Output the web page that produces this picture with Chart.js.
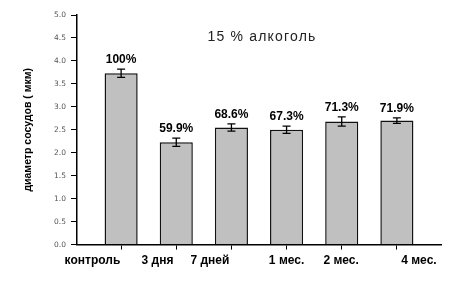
<!DOCTYPE html>
<html><head><meta charset="utf-8">
<script src="https://cdn.jsdelivr.net/npm/chart.js@4"></script>
<style>html,body{margin:0;padding:0;background:#fff}#wrap{width:450px;height:282px}</style>
</head><body><div id="wrap"><canvas id="c" width="450" height="282"></canvas></div>
<script>
const categories = ["контроль", "3 дня", "7 дней", "1 мес.", "2 мес.", "4 мес."];
const values = [3.73, 2.23, 2.55, 2.50, 2.68, 2.70];
const errors = [0.09, 0.09, 0.08, 0.08, 0.10, 0.06];
const percentLabels = ["100%", "59.9%", "68.6%", "67.3%", "71.3%", "71.9%"];
const labelPositions = [-0.52, 0.66, 1.61, 3.0, 3.99, 5.4];
const yTicks = [0, 0.5, 1, 1.5, 2, 2.5, 3, 3.5, 4, 4.5, 5];
const chartTitle = "15 % алкоголь";
const yTitle = "диаметр сосудов ( мкм)";

const FONT = "'Liberation Sans', Arial, sans-serif";

const overlay = {
  id: 'overlay',
  afterDatasetsDraw(chart) {
    const ctx = chart.ctx;
    const xs = chart.scales.x, ys = chart.scales.y;
    ctx.save();
    ctx.strokeStyle = '#000';
    ctx.lineWidth = 1.3;
    values.forEach((v, i) => {
      const x = xs.getPixelForValue(i);
      const yt = ys.getPixelForValue(v + errors[i]);
      const yb = ys.getPixelForValue(v - errors[i]);
      ctx.beginPath();
      ctx.moveTo(x, yt); ctx.lineTo(x, yb);
      ctx.moveTo(x - 4, yt); ctx.lineTo(x + 4, yt);
      ctx.moveTo(x - 4, yb); ctx.lineTo(x + 4, yb);
      ctx.stroke();
      ctx.fillStyle = '#000';
      ctx.font = "bold 12px " + FONT;
      ctx.textAlign = 'center';
      ctx.textBaseline = 'bottom';
      ctx.fillText(percentLabels[i], x, yt - 3);
    });
    ctx.fillStyle = '#222';
    ctx.font = "14px " + FONT;
    ctx.textAlign = 'center';
    ctx.textBaseline = 'middle';
    try { ctx.letterSpacing = '1.2px'; } catch (e) {}
    ctx.fillText(chartTitle, 262, 37);
    ctx.restore();
  }
};

new Chart(document.getElementById('c'), {
  type: 'bar',
  data: {
    datasets: [{
      data: values.map((v, i) => ({x: i, y: v})),
      backgroundColor: '#c0c0c0',
      borderColor: '#111',
      borderWidth: 1.5,
      barPercentage: 0.6,
      categoryPercentage: 1.0,
      xAxisID: 'x',
      yAxisID: 'y'
    }]
  },
  options: {
    responsive: false,
    animation: false,
    devicePixelRatio: 1,
    layout: { padding: { left: 10, right: 9, top: 15, bottom: 10 } },
    plugins: { legend: { display: false }, tooltip: { enabled: false }, title: { display: false } },
    scales: {
      x: {
        type: 'linear', position: 'bottom', offset: false,
        min: -0.8, max: 5.8,
        afterBuildTicks(s) { s.ticks = categories.map((c, i) => ({ value: i })); },
        ticks: { display: false },
        grid: { offset: false, drawOnChartArea: false, drawTicks: true, tickLength: 5, color: '#000', lineWidth: 1 },
        border: { display: true, color: '#000', width: 1.5 }
      },
      xl: {
        type: 'linear', position: 'bottom', offset: false,
        min: -0.8, max: 5.8,
        afterBuildTicks(s) { s.ticks = labelPositions.map(v => ({ value: v })); },
        ticks: {
          autoSkip: false, maxRotation: 0, padding: 4, color: '#000',
          font: { family: FONT, size: 12, weight: 'bold' },
          callback: (v, i) => categories[i]
        },
        grid: { offset: false, display: false, drawTicks: false },
        border: { display: false }
      },
      y: {
        type: 'linear', position: 'left',
        min: 0, max: 5,
        afterBuildTicks(s) { s.ticks = yTicks.map(v => ({ value: v })); },
        afterFit(s) { s.width = 67; },
        ticks: {
          padding: 5, color: '#555',
          font: { family: "'DejaVu Sans', sans-serif", size: 7.5 },
          callback: v => v.toFixed(1)
        },
        grid: { drawOnChartArea: false, drawTicks: true, tickLength: 6, color: '#000', lineWidth: 1 },
        border: { display: true, color: '#000', width: 1.5 },
        title: {
          display: true, text: yTitle, color: '#000',
          font: { family: FONT, size: 10.5, weight: 'bold' },
          padding: { top: 12, bottom: 0 }
        }
      }
    }
  },
  plugins: [overlay]
});
</script>
</body></html>
